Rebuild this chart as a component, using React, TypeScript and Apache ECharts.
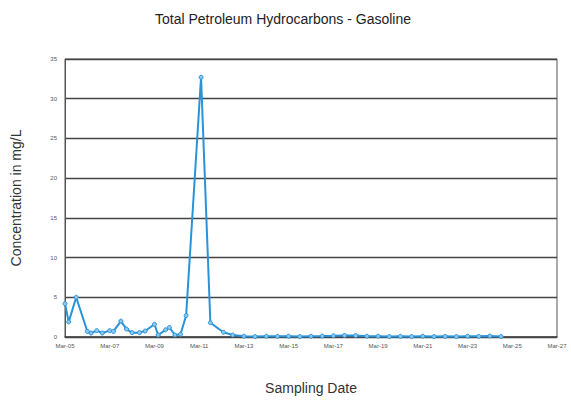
import React, { useEffect, useRef } from "react";
import * as echarts from "echarts";

const sampleDates: string[] = [
  "2005-03", "2005-05", "2005-09", "2006-03", "2006-05", "2006-08", "2006-11",
  "2007-03", "2007-05", "2007-09", "2007-12", "2008-03", "2008-07", "2008-10",
  "2009-03", "2009-05", "2009-09", "2009-11", "2010-02", "2010-05", "2010-08",
  "2011-04", "2011-09", "2012-04", "2012-09",
  "2013-03", "2013-09", "2014-03", "2014-09", "2015-03", "2015-09",
  "2016-03", "2016-09", "2017-03", "2017-09", "2018-03", "2018-09",
  "2019-03", "2019-09", "2020-03", "2020-09", "2021-03", "2021-09",
  "2022-03", "2022-09", "2023-03", "2023-09", "2024-03", "2024-09",
];

const concentrations: number[] = [
  4.2, 1.9, 5.0, 0.7, 0.5, 0.8, 0.5,
  0.8, 0.7, 2.0, 1.0, 0.55, 0.55, 0.75,
  1.6, 0.25, 0.9, 1.2, 0.25, 0.35, 2.7,
  32.7, 1.8, 0.6, 0.25,
  0.1, 0.05, 0.1, 0.08, 0.1, 0.05,
  0.1, 0.12, 0.15, 0.2, 0.18, 0.1,
  0.1, 0.05, 0.08, 0.05, 0.1, 0.05,
  0.08, 0.05, 0.1, 0.08, 0.12, 0.05,
];

const xTickYears: number[] = [2005, 2007, 2009, 2011, 2013, 2015, 2017, 2019, 2021, 2023, 2025, 2027];
const yTicks: number[] = [0, 5, 10, 15, 20, 25, 30, 35];

const toDecimalYear = (d: string) => {
  const [y, m] = d.split("-").map(Number);
  return y + (m - 3) / 12;
};

export default function App() {
  const ref = useRef<HTMLDivElement>(null);
  useEffect(() => {
    if (!ref.current) return;
    const chart = echarts.init(ref.current, undefined, { renderer: "svg" });
    const data = sampleDates.map((d, i) => [toDecimalYear(d), concentrations[i]]);
    chart.setOption({
      animation: false,
      backgroundColor: "#ffffff",
      title: {
        text: "Total Petroleum Hydrocarbons - Gasoline",
        left: 278,
        textAlign: "center",
        top: 7,
        textStyle: { fontFamily: "Liberation Sans", fontSize: 14, fontWeight: "normal", color: "#222" },
      },
      grid: {
        left: 65, right: 14, top: 59, bottom: 65,
        show: true, borderColor: "#555", borderWidth: 1,
      },
      xAxis: {
        type: "value",
        min: xTickYears[0],
        max: xTickYears[xTickYears.length - 1],
        interval: 2,
        name: "Sampling Date",
        nameLocation: "middle",
        nameGap: 44,
        nameTextStyle: { fontFamily: "Liberation Sans", fontSize: 14, color: "#333" },
        axisLine: { show: true, lineStyle: { color: "#444", width: 1.5 } },
        axisTick: { show: false },
        splitLine: { show: false },
        axisLabel: {
          fontSize: 6, color: "#555", margin: 6, fontFamily: "Liberation Sans",
          formatter: (v: number) => "Mar-" + String(v).slice(2),
        },
      },
      yAxis: {
        type: "value",
        min: yTicks[0],
        max: yTicks[yTicks.length - 1],
        interval: 5,
        name: "Concentration in mg/L",
        nameLocation: "middle",
        nameGap: 42,
        nameTextStyle: { fontFamily: "Liberation Sans", fontSize: 14, color: "#333" },
        axisLine: { show: true, lineStyle: { color: "#555", width: 1 } },
        axisTick: { show: false },
        splitLine: { show: true, lineStyle: { color: "#444", width: 1.3 } },
        axisLabel: { fontSize: 6, color: "#555", margin: 8, fontFamily: "Liberation Sans" },
      },
      series: [
        {
          type: "line",
          data,
          symbol: "circle",
          symbolSize: 4,
          lineStyle: { color: "#2a93d8", width: 2 },
          itemStyle: { color: "#8cc8f0", borderColor: "#2a93d8", borderWidth: 1 },
        },
      ],
    });
    return () => chart.dispose();
  }, []);
  return <div ref={ref} style={{ position: "fixed", left: 0, top: 0, width: 571, height: 402 }} />;
}
